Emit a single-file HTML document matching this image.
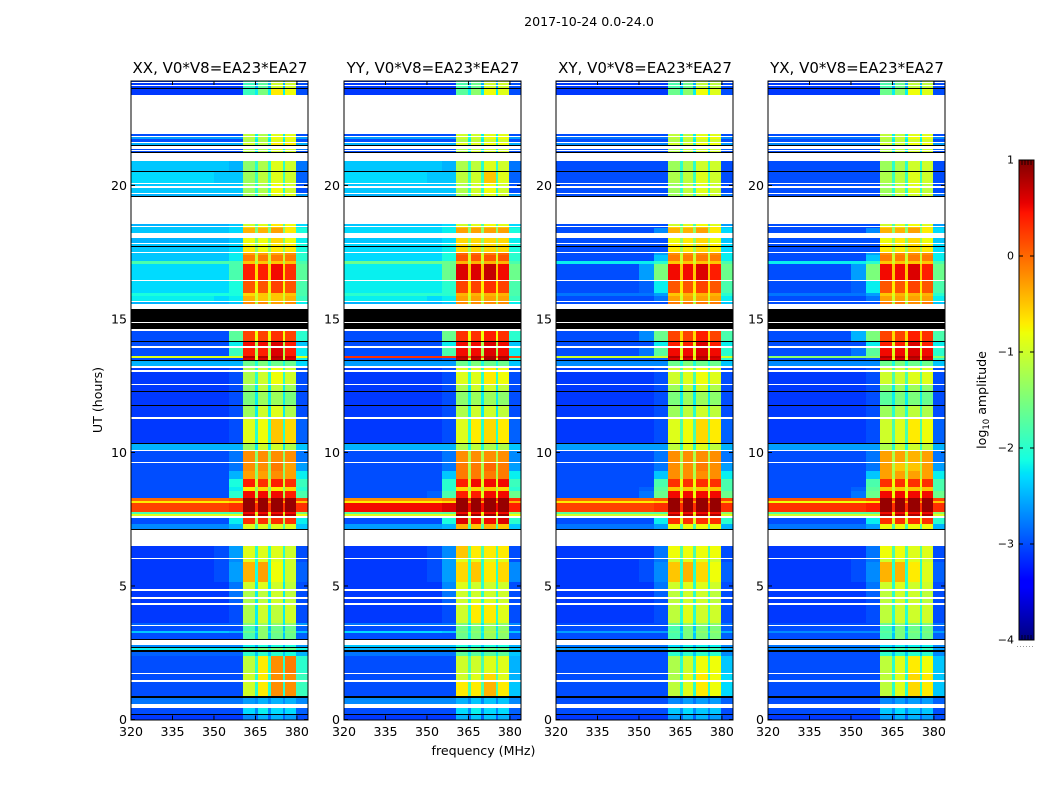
<!DOCTYPE html>
<html lang="en">
<head>
<meta charset="utf-8">
<title>2017-10-24 0.0-24.0</title>
<style>
html,body{margin:0;padding:0;background:#fff;}
svg{display:block;font-family:"DejaVu Sans","Liberation Sans",sans-serif;fill:#000;}
</style>
</head>
<body>
<svg id="chart" xmlns="http://www.w3.org/2000/svg" width="1050" height="800" viewBox="0 0 1050 800"></svg>
<script>
// Row start times in UT hours, with a kind for each: d = data, w = flagged blank, k = black line
const rowStartsUT = [0,0.17,0.21,0.43,0.58,0.81,0.88,1.42,1.48,1.70,1.74,2.38,2.53,2.60,2.68,2.72,2.80,2.96,3.00,3.25,3.32,3.50,3.55,3.60,3.63,4.30,4.36,4.51,4.57,4.82,4.87,5.15,5.90,6.00,6.04,6.50,7.10,7.15,7.32,7.55,7.62,7.70,7.76,8.11,8.20,8.30,8.55,8.70,9.00,9.30,9.62,9.66,10.07,10.11,10.30,10.36,11.25,11.31,11.74,11.78,12.27,12.31,12.53,12.57,13.03,13.07,13.17,13.22,13.43,13.47,13.55,13.62,13.93,13.97,14.12,14.16,14.53,14.63,14.83,14.87,15.32,15.36,15.39,15.56,15.65,15.68,15.86,15.97,16.43,16.47,17.05,17.16,17.40,17.47,17.51,17.69,17.73,17.82,17.86,18.03,18.20,18.39,18.44,18.48,18.55,19.55,19.62,19.68,19.73,19.92,19.96,20.06,20.10,20.50,20.55,20.90,21.22,21.25,21.30,21.33,21.38,21.46,21.50,21.59,21.64,21.72,21.82,21.85,21.93,23.39,23.61,23.65,23.74,23.77,23.84,23.87];
const rowKinds = ['d','k','d','w','d','k','d','w','d','w','d','d','k','d','k','d','w','k','d','d','d','w','d','w','d','w','d','w','d','w','d','d','d','w','d','w','k','d','d','w','d','d','d','d','d','d','d','d','d','d','w','d','w','d','k','d','w','d','k','d','k','d','w','d','w','d','w','d','k','d','d','d','w','d','k','d','w','k','w','k','w','k','w','d','w','d','d','d','w','d','d','d','d','w','d','k','d','w','d','w','d','d','w','d','w','k','d','w','d','w','d','w','d','k','d','w','k','d','w','d','w','k','d','w','d','d','w','d','w','d','k','d','w','d','w','d'];
const utEnd = 23.91;
// Frequency bin edges (MHz) and, for each bin, which value column of a data row it uses
const freqEdges = [320,350,355.5,360.4,365,365.8,369.4,370.5,374.8,375.7,379.8,384];
// Column meaning: 0 low, 1 mid, 2 shoulder, 3 A, 4 B, 5 C, 6 D, 7 gap, 8 tail
const freqColumns = [0,1,2,3,7,4,7,5,7,6,8];
// Amplitudes: log10 amplitude x 10, one line per data row
const xxCells = [
[-31,-31,-31,-27,-25,-25,-26,-29,-30],[-30,-30,-30,-23,-22,-23,-23,-27,-29],[-28,-28,-28,-26,-25,-25,-25,-27,-27],[-30,-30,-30,-10,-7,-2,-2,-20,-19],[-30,-30,-30,-10,-7,-2,-2,-20,-19],
[-30,-30,-30,-11,-7,-2,-1,-20,-20],[-29,-29,-29,-20,-20,-20,-21,-24,-25],[-22,-22,-22,-16,-15,-15,-16,-20,-21],[-27,-27,-27,-22,-21,-21,-21,-25,-26],[-30,-30,-30,-18,-14,-16,-16,-24,-29],
[-24,-24,-25,-16,-14,-15,-15,-22,-24],[-30,-30,-30,-18,-14,-16,-16,-24,-29],[-29,-29,-29,-15,-13,-14,-14,-22,-26],[-31,-31,-30,-12,-10,-11,-10,-22,-30],[-31,-31,-29,-12,-11,-10,-11,-22,-30],
[-31,-31,-28,-12,-11,-10,-11,-22,-30],[-31,-31,-28,-10,-9,-10,-11,-22,-30],[-31,-30,-26,-4,-3,-8,-10,-21,-29],[-31,-30,-27,-9,-9,-9,-10,-21,-30],[-31,-30,-26,-9,-9,-9,-10,-20,-30],
[-27,-27,-25,-9,-9,-9,-9,-18,-24],[-30,-30,-22,3,3,3,3,-12,-22],[-9,-9,-9,8,8,8,8,-6,-8],[-18,-18,-18,5,5,5,5,-10,-15],[2,2,3,9,9,9,9,3,3],
[-7,-7,-6,9,9,9,9,-3,-5],[0,0,1,9,9,9,9,2,2],[-30,-30,-20,5,5,5,4,-12,-18],[-30,-30,-22,-7,-6,-7,-6,-14,-20],[-30,-30,-21,4,3,4,3,-10,-19],
[-30,-30,-25,-3,-3,-2,-3,-14,-22],[-30,-30,-28,-2,-2,-1,-3,-14,-26],[-30,-30,-28,-2,-2,-2,-2,-14,-28],[-25,-25,-25,-13,-10,-10,-12,-22,-24],[-31,-31,-30,-9,-8,-5,-6,-20,-29],
[-31,-31,-30,-13,-10,-9,-12,-22,-30],[-31,-31,-30,-15,-13,-13,-15,-22,-30],[-31,-31,-30,-14,-11,-11,-13,-22,-30],[-31,-31,-30,-12,-10,-8,-10,-20,-30],[-31,-31,-30,-12,-10,-8,-10,-20,-30],
[-25,-25,-25,-16,-15,-16,-16,-21,-23],[-30,-30,-30,6,6,7,6,-10,-22],[-9,-9,-9,8,8,8,7,-9,-9],[-30,-30,-19,4,4,6,4,-12,-22],[-30,-30,-22,5,5,6,4,-12,-24],
[-30,-30,-17,2,2,3,2,-8,-20],[-25,-25,-24,-2,-2,-3,-2,-12,-22],[-22,-23,-22,-4,-5,-5,-4,-10,-19],[-21,-21,-21,-6,-5,-5,-5,-10,-18],[-23,-23,-21,1,1,2,1,-8,-18],
[-23,-23,-18,4,4,5,3,-6,-17],[-18,-18,-18,-5,-5,-5,-5,-12,-18],[-24,-24,-22,-1,-1,-1,-1,-10,-20],[-24,-24,-22,-3,-3,-3,-2,-12,-20],[-24,-24,-23,-7,-8,-7,-7,-14,-21],
[-24,-24,-23,-8,-8,-7,-7,-14,-21],[-25,-25,-24,-8,-8,-6,-8,-15,-22],[-24,-24,-23,-4,-4,-3,-7,-15,-21],[-24,-24,-23,-6,-6,-5,-7,-15,-22],[-25,-25,-24,-10,-9,-7,-8,-18,-23],
[-25,-25,-25,-13,-12,-9,-9,-20,-26],[-24,-24,-24,-13,-12,-8,-10,-20,-30],[-24,-24,-24,-13,-12,-8,-10,-20,-30],[-23,-24,-24,-13,-11,-9,-10,-19,-29],[-24,-24,-25,-14,-12,-9,-10,-20,-28],
[-30,-30,-30,-12,-12,-10,-10,-22,-30],[-30,-30,-30,-12,-12,-9,-10,-22,-28],[-25,-25,-25,-10,-11,-7,-7,-20,-25],[-30,-30,-30,-12,-12,-9,-9,-22,-30],[-26,-26,-26,-11,-11,-8,-8,-21,-26],
[-30,-30,-30,-11,-12,-9,-9,-22,-30],[-31,-31,-31,-19,-15,-7,-8,-22,-30],[-31,-31,-31,-19,-17,-10,-10,-25,-30],[-31,-31,-31,-19,-17,-10,-10,-25,-30],[-31,-31,-31,-19,-17,-10,-10,-25,-30]
];
const yyCells = [
[-31,-31,-31,-25,-24,-24,-25,-29,-30],[-30,-30,-30,-23,-22,-23,-23,-27,-29],[-27,-27,-27,-25,-24,-24,-24,-27,-27],[-30,-30,-30,-7,-7,-4,-7,-18,-24],[-30,-30,-30,-10,-9,-6,-9,-18,-25],
[-30,-30,-30,-10,-10,-9,-9,-18,-25],[-28,-28,-28,-17,-17,-17,-17,-22,-24],[-25,-25,-25,-16,-16,-16,-16,-20,-24],[-24,-24,-24,-21,-21,-21,-21,-24,-25],[-30,-30,-30,-16,-15,-13,-14,-22,-29],
[-23,-23,-24,-15,-14,-12,-13,-21,-24],[-30,-30,-30,-16,-15,-13,-14,-22,-29],[-28,-28,-28,-15,-14,-13,-14,-22,-27],[-31,-31,-30,-10,-7,-7,-9,-20,-30],[-31,-31,-29,-10,-9,-9,-10,-20,-30],
[-31,-31,-28,-10,-10,-10,-10,-20,-30],[-31,-31,-27,-9,-10,-10,-10,-20,-30],[-31,-30,-26,-6,-5,-7,-6,-20,-27],[-31,-30,-26,-9,-9,-9,-9,-20,-30],[-31,-30,-27,-5,-7,-7,-7,-18,-30],
[-26,-26,-25,-4,-5,-4,-5,-18,-24],[-30,-30,-21,6,5,5,6,-12,-20],[-9,-9,-9,9,9,9,9,-6,-8],[-17,-17,-17,5,5,5,5,-9,-14],[5,5,6,9,9,9,9,5,4],
[-7,-7,-6,9,9,9,9,-3,-4],[-2,-2,-1,9,9,9,9,3,3],[-30,-29,-18,4,4,5,5,-9,-16],[-30,-30,-20,-6,-6,-5,-6,-12,-20],[-30,-30,-20,4,5,5,5,-9,-19],
[-30,-30,-24,-1,-1,-1,-1,-12,-22],[-30,-30,-28,-1,-1,0,-1,-12,-26],[-30,-30,-28,-2,-2,-2,-2,-12,-27],[-25,-25,-25,-12,-11,-12,-12,-21,-24],[-31,-31,-30,-9,-7,-6,-7,-20,-29],
[-31,-31,-30,-12,-10,-10,-11,-22,-30],[-31,-31,-30,-14,-13,-13,-14,-22,-30],[-31,-31,-30,-12,-10,-10,-11,-22,-30],[-31,-31,-30,-9,-9,-7,-8,-20,-30],[-31,-31,-30,-9,-9,-7,-8,-20,-30],
[-26,-26,-26,-16,-15,-16,-16,-21,-24],[-30,-30,-29,7,7,8,7,-10,-20],[3,3,3,8,8,8,8,1,2],[-30,-30,-18,5,5,6,5,-12,-22],[-30,-30,-22,5,5,6,5,-12,-24],
[-30,-30,-16,3,3,4,3,-8,-20],[-25,-25,-24,-2,-2,-2,-2,-12,-22],[-22,-23,-22,-3,-3,-3,-3,-10,-19],[-20,-20,-20,-4,-4,-4,-4,-9,-18],[-22,-22,-20,2,2,3,2,-7,-18],
[-22,-22,-16,6,6,7,5,-5,-16],[-16,-16,-16,-4,-4,-4,-4,-11,-18],[-23,-23,-21,1,1,1,1,-9,-20],[-23,-23,-21,0,0,-1,0,-11,-20],[-23,-23,-22,-6,-6,-6,-6,-13,-21],
[-23,-23,-22,-6,-6,-6,-6,-13,-21],[-24,-24,-23,-6,-6,-6,-6,-14,-22],[-23,-23,-22,-3,-3,-3,-3,-14,-21],[-23,-23,-22,-5,-5,-5,-5,-14,-22],[-24,-24,-23,-10,-9,-8,-9,-18,-23],
[-25,-25,-25,-13,-10,-9,-10,-20,-26],[-24,-24,-24,-12,-10,-8,-10,-20,-30],[-24,-24,-24,-12,-10,-8,-10,-20,-30],[-23,-24,-24,-11,-10,-5,-9,-19,-29],[-24,-24,-25,-12,-11,-9,-10,-20,-28],
[-30,-30,-30,-12,-10,-10,-10,-22,-30],[-30,-30,-30,-12,-11,-10,-10,-22,-28],[-25,-25,-25,-9,-9,-8,-8,-20,-25],[-30,-30,-30,-12,-11,-10,-10,-22,-30],[-26,-26,-26,-10,-10,-8,-8,-21,-26],
[-30,-30,-30,-10,-10,-9,-9,-22,-30],[-31,-31,-31,-17,-14,-8,-9,-22,-30],[-31,-31,-31,-18,-16,-10,-10,-25,-30],[-31,-31,-31,-18,-16,-10,-10,-25,-30],[-31,-31,-31,-18,-16,-10,-10,-25,-30]
];
const xyCells = [
[-31,-31,-31,-26,-25,-25,-26,-29,-30],[-30,-30,-30,-24,-23,-24,-24,-27,-30],[-30,-30,-30,-27,-26,-26,-26,-28,-29],[-30,-30,-30,-11,-9,-7,-8,-20,-23],[-30,-30,-30,-12,-9,-7,-8,-20,-23],
[-30,-30,-30,-12,-10,-8,-8,-20,-24],[-30,-30,-30,-20,-20,-20,-20,-24,-27],[-26,-26,-26,-19,-18,-18,-19,-22,-25],[-28,-28,-28,-23,-22,-22,-22,-25,-27],[-30,-30,-30,-18,-15,-15,-15,-24,-29],
[-26,-26,-26,-17,-15,-14,-14,-22,-25],[-30,-30,-30,-18,-15,-15,-15,-24,-29],[-30,-30,-30,-16,-14,-14,-14,-22,-28],[-31,-31,-30,-11,-9,-10,-10,-20,-30],[-31,-31,-30,-11,-10,-10,-11,-20,-30],
[-31,-31,-29,-11,-10,-10,-11,-20,-30],[-31,-31,-28,-10,-9,-9,-10,-20,-30],[-31,-30,-27,-5,-4,-6,-8,-20,-29],[-31,-30,-28,-10,-9,-9,-10,-20,-30],[-31,-31,-28,-8,-8,-8,-8,-18,-30],
[-28,-28,-26,-8,-8,-8,-8,-18,-25],[-30,-30,-22,3,3,3,3,-9,-20],[-10,-10,-10,8,8,8,8,-6,-9],[-17,-17,-17,5,5,5,5,-9,-14],[2,2,3,9,9,9,9,3,3],
[-7,-7,-6,9,9,9,9,-3,-5],[0,0,1,9,9,9,9,2,2],[-30,-28,-16,5,5,5,5,-8,-16],[-30,-29,-17,-5,-5,-5,-5,-10,-18],[-30,-30,-18,3,3,3,3,-8,-18],
[-30,-30,-24,-2,-2,-2,-2,-12,-22],[-30,-30,-28,-2,-2,-1,-2,-12,-26],[-30,-30,-28,-2,-2,-2,-2,-12,-28],[-26,-26,-26,-11,-9,-9,-11,-20,-25],[-31,-31,-30,-9,-8,-6,-7,-18,-29],
[-31,-31,-30,-13,-11,-10,-11,-20,-30],[-31,-31,-30,-15,-13,-13,-14,-22,-30],[-31,-31,-30,-13,-11,-10,-12,-22,-30],[-31,-31,-30,-10,-9,-8,-9,-18,-30],[-31,-31,-30,-10,-9,-8,-9,-18,-30],
[-27,-27,-27,-16,-15,-16,-16,-21,-24],[-30,-30,-29,6,6,7,6,-9,-20],[-10,-10,-10,8,8,8,7,-6,-10],[-30,-28,-17,5,5,6,5,-9,-20],[-30,-30,-22,4,4,6,4,-9,-22],
[-30,-27,-16,2,2,4,2,-6,-18],[-30,-30,-30,-1,-1,-1,-1,-12,-24],[-30,-30,-28,-3,-3,-3,-3,-10,-22],[-28,-28,-26,-5,-4,-4,-4,-9,-20],[-30,-29,-22,1,1,2,1,-7,-18],
[-30,-26,-15,5,5,6,4,-5,-16],[-22,-22,-20,-5,-5,-5,-5,-10,-18],[-30,-30,-24,-1,-1,-1,-1,-10,-22],[-30,-30,-26,-2,-2,-2,-2,-11,-22],[-30,-30,-30,-7,-7,-6,-7,-13,-23],
[-30,-30,-30,-7,-7,-6,-7,-13,-23],[-30,-30,-30,-8,-7,-6,-8,-14,-24],[-30,-30,-27,-4,-4,-3,-7,-14,-23],[-30,-30,-30,-6,-6,-5,-7,-14,-24],[-30,-30,-30,-10,-9,-8,-9,-18,-26],
[-30,-30,-30,-13,-11,-10,-10,-20,-28],[-30,-30,-30,-13,-11,-9,-10,-20,-30],[-30,-30,-30,-13,-11,-9,-10,-20,-30],[-30,-30,-30,-12,-11,-9,-10,-19,-30],[-30,-30,-30,-13,-12,-10,-10,-20,-30],
[-30,-30,-30,-12,-11,-10,-10,-22,-30],[-30,-30,-30,-12,-11,-10,-10,-22,-29],[-27,-27,-27,-10,-10,-8,-8,-20,-26],[-30,-30,-30,-12,-11,-10,-10,-22,-30],[-28,-28,-28,-11,-10,-8,-8,-21,-27],
[-30,-30,-30,-11,-11,-9,-9,-22,-30],[-31,-31,-31,-16,-14,-8,-9,-22,-30],[-31,-31,-31,-18,-16,-11,-11,-25,-30],[-31,-31,-31,-18,-16,-11,-11,-25,-30],[-31,-31,-31,-18,-16,-11,-11,-25,-30]
];
const yxCells = [
[-31,-31,-31,-26,-25,-25,-26,-29,-30],[-30,-30,-30,-24,-23,-24,-24,-27,-30],[-30,-30,-30,-27,-26,-26,-26,-28,-29],[-30,-30,-30,-11,-9,-6,-7,-20,-24],[-30,-30,-30,-11,-9,-6,-7,-20,-24],
[-30,-30,-30,-11,-9,-7,-8,-20,-24],[-30,-30,-30,-20,-20,-20,-20,-24,-27],[-27,-27,-27,-19,-18,-18,-19,-22,-26],[-28,-28,-28,-23,-22,-22,-22,-25,-27],[-30,-30,-30,-18,-15,-16,-16,-24,-29],
[-27,-27,-27,-17,-15,-15,-15,-22,-26],[-30,-30,-30,-18,-15,-16,-16,-24,-29],[-30,-30,-30,-16,-14,-15,-15,-22,-28],[-31,-31,-30,-11,-10,-10,-10,-20,-30],[-31,-31,-30,-11,-10,-10,-11,-20,-30],
[-31,-31,-29,-11,-10,-10,-11,-20,-30],[-31,-31,-28,-10,-9,-10,-10,-20,-30],[-31,-30,-27,-4,-4,-7,-9,-20,-29],[-31,-30,-28,-10,-9,-9,-10,-20,-30],[-31,-31,-28,-8,-8,-9,-9,-18,-30],
[-28,-28,-26,-8,-8,-8,-8,-18,-25],[-30,-30,-22,3,3,3,3,-9,-20],[-10,-10,-10,8,8,8,8,-6,-9],[-17,-17,-17,5,5,5,5,-9,-14],[3,3,4,9,9,9,9,3,3],
[-8,-8,-7,9,9,9,9,-3,-5],[1,1,2,9,9,9,9,2,2],[-30,-28,-16,5,5,5,5,-8,-16],[-30,-29,-17,-5,-5,-5,-5,-10,-18],[-30,-30,-18,3,3,3,3,-8,-18],
[-30,-30,-24,-3,-3,-3,-3,-12,-22],[-30,-30,-28,-3,-5,-5,-3,-12,-26],[-30,-30,-28,-3,-3,-4,-3,-12,-28],[-26,-26,-26,-12,-10,-10,-11,-20,-25],[-31,-31,-30,-10,-9,-7,-8,-18,-29],
[-31,-31,-30,-13,-12,-11,-12,-20,-30],[-31,-31,-30,-17,-15,-15,-16,-22,-30],[-31,-31,-30,-14,-13,-13,-14,-22,-30],[-31,-31,-30,-10,-10,-9,-9,-18,-30],[-31,-31,-30,-10,-10,-9,-9,-18,-30],
[-27,-27,-27,-16,-15,-16,-16,-21,-24],[-30,-30,-29,6,6,7,6,-9,-20],[-14,-14,-14,8,8,8,7,-6,-14],[-30,-28,-17,5,5,6,5,-9,-20],[-30,-30,-22,4,4,6,4,-9,-22],
[-30,-25,-15,2,2,4,3,-6,-18],[-30,-30,-30,-1,-1,-2,-1,-12,-24],[-30,-30,-28,-3,-3,-3,-3,-10,-22],[-28,-28,-26,-5,-4,-4,-4,-9,-20],[-30,-29,-22,1,1,2,1,-7,-18],
[-30,-26,-15,5,5,6,4,-5,-16],[-22,-22,-20,-5,-5,-5,-5,-10,-18],[-30,-30,-24,-1,-1,-1,-1,-10,-22],[-30,-30,-26,-2,-2,-2,-2,-11,-22],[-30,-30,-30,-7,-7,-6,-7,-13,-23],
[-30,-30,-30,-7,-7,-6,-7,-13,-23],[-30,-30,-30,-8,-7,-6,-8,-14,-24],[-30,-30,-27,-4,-4,-3,-7,-14,-23],[-30,-30,-30,-6,-6,-5,-7,-14,-24],[-30,-30,-30,-10,-9,-8,-9,-18,-26],
[-30,-30,-30,-13,-11,-10,-10,-20,-28],[-30,-30,-30,-13,-11,-9,-11,-20,-30],[-30,-30,-30,-13,-11,-9,-11,-20,-30],[-30,-30,-30,-12,-11,-9,-10,-19,-30],[-30,-30,-30,-13,-12,-10,-10,-20,-30],
[-30,-30,-30,-12,-11,-10,-10,-22,-30],[-30,-30,-30,-12,-11,-10,-10,-22,-29],[-27,-27,-27,-10,-10,-8,-8,-20,-26],[-30,-30,-30,-12,-11,-10,-10,-22,-30],[-28,-28,-28,-11,-10,-8,-8,-21,-27],
[-30,-30,-30,-11,-11,-9,-9,-22,-30],[-31,-31,-31,-16,-14,-8,-9,-22,-30],[-31,-31,-31,-18,-16,-11,-11,-25,-30],[-31,-31,-31,-18,-16,-11,-11,-25,-30],[-31,-31,-31,-18,-16,-11,-11,-25,-30]
];
const panelTitles = ['XX, V0*V8=EA23*EA27','YY, V0*V8=EA23*EA27','XY, V0*V8=EA23*EA27','YX, V0*V8=EA23*EA27'];
const panelCells = [xxCells, yyCells, xyCells, yxCells];
const xTickValues = [320,335,350,365,380];
const yTickValues = [0,5,10,15,20];
const colorTickValues = [1,0,-1,-2,-3,-4];
const colorTickLabels = ['1','0','\u22121','\u22122','\u22123','\u22124'];

const NS = 'http://www.w3.org/2000/svg';
const root = document.getElementById('chart');
const panelLefts = [131, 344, 556, 768];
const panelWidth = 177;
const plotTop = 81;
const plotBottom = 719.5;
const xOf = (left, mhz) => left + (mhz - freqEdges[0]) / (freqEdges[freqEdges.length - 1] - freqEdges[0]) * panelWidth;
const yOf = (ut) => plotBottom - ut / utEnd * (plotBottom - plotTop);
const colorTop = 160;
const colorBottom = 640;
const colorLeft = 1019;
const colorRight = 1034;
const yOfLevel = (v) => colorBottom - (v + 4) / 5 * (colorBottom - colorTop);

function piece(v, pts) {
  for (let i = 0; i < pts.length - 1; i++) {
    if (v <= pts[i + 1][0]) {
      const a = pts[i], b = pts[i + 1];
      return a[1] + (b[1] - a[1]) * (v - a[0]) / (b[0] - a[0]);
    }
  }
  return pts[pts.length - 1][1];
}
function jet(level) {
  const t = Math.max(0, Math.min(1, (level + 4) / 5));
  const r = piece(t, [[0, 0], [0.35, 0], [0.66, 1], [0.89, 1], [1, 0.5]]);
  const g = piece(t, [[0, 0], [0.125, 0], [0.375, 1], [0.64, 1], [0.91, 0], [1, 0]]);
  const b = piece(t, [[0, 0.5], [0.11, 1], [0.34, 1], [0.65, 0], [1, 0]]);
  return 'rgb(' + Math.round(r * 255) + ',' + Math.round(g * 255) + ',' + Math.round(b * 255) + ')';
}
function make(tag, attrs, parent) {
  const el = document.createElementNS(NS, tag);
  for (const k in attrs) el.setAttribute(k, attrs[k]);
  (parent || root).appendChild(el);
  return el;
}
function label(content, attrs, parent) {
  const el = make('text', attrs, parent);
  el.textContent = content;
  return el;
}

panelCells.forEach((cells, p) => {
  const left = panelLefts[p];
  const g = make('g', {});
  
  
  const heat = make('g', { 'shape-rendering': 'crispEdges' }, g);
  
  
  let dataRow = 0;
  rowStartsUT.forEach((start, r) => {
    const end = r + 1 < rowStartsUT.length ? rowStartsUT[r + 1] : utEnd;
    const yTop = Math.round(yOf(end));
    const yBot = Math.round(yOf(start));
    const h = Math.max(1, yBot - yTop);
    const kind = rowKinds[r];
    if (kind === 'w') return;
    if (kind === 'k') {
      const line = make('rect', { x: left, y: yTop, width: panelWidth, height: h, fill: '#000' }, heat);
      
      
      return;
    }
    const values = cells[dataRow++];
    freqColumns.forEach((col, c) => {
      const x0 = Math.round(xOf(left, freqEdges[c]));
      const x1 = Math.round(xOf(left, freqEdges[c + 1]));
      const cell = make('rect', { x: x0, y: yTop, width: x1 - x0, height: h, fill: jet(values[col] / 10) }, heat);
      
      
    });
  });
  const frame = make('rect', { x: left, y: plotTop, width: panelWidth, height: plotBottom - plotTop + 0.5, fill: 'none', stroke: '#000', 'stroke-width': 1 }, g);
  
  
  xTickValues.forEach((v) => {
    const x = xOf(left, v);
    const tb = make('line', { x1: x, x2: x, y1: plotBottom, y2: plotBottom - 4, stroke: '#000', 'stroke-width': 1 }, g);
    
    
    const tt = make('line', { x1: x, x2: x, y1: plotTop, y2: plotTop + 4, stroke: '#000', 'stroke-width': 1 }, g);
    
    
    const t = label(String(v), { x: x, y: 736, 'text-anchor': 'middle', 'font-size': 12.6 }, g);
    
    
  });
  yTickValues.forEach((v) => {
    const y = yOf(v);
    const tl = make('line', { x1: left, x2: left + 4, y1: y, y2: y, stroke: '#000', 'stroke-width': 1 }, g);
    
    
    const tr = make('line', { x1: left + panelWidth, x2: left + panelWidth - 4, y1: y, y2: y, stroke: '#000', 'stroke-width': 1 }, g);
    
    
    const t = label(String(v), { x: left - 4, y: y + 4.5, 'text-anchor': 'end', 'font-size': 12.6 }, g);
    
    
  });
  const title = label(panelTitles[p], { x: left + panelWidth / 2 + 0.5, y: 73, 'text-anchor': 'middle', 'font-size': 15 }, g);
  
  
});

const sup = label('2017-10-24 0.0-24.0', { x: 589, y: 26, 'text-anchor': 'middle', 'font-size': 12.6 });


const xTitle = label('frequency (MHz)', { x: 483.5, y: 755, 'text-anchor': 'middle', 'font-size': 12.6 });


const yTitle = label('UT (hours)', { x: 0, y: 0, 'text-anchor': 'middle', 'font-size': 12.6, transform: 'translate(102,400) rotate(-90)' });



const bar = make('g', {});


const barFill = make('g', { 'shape-rendering': 'crispEdges' }, bar);


for (let y = colorTop; y < colorBottom; y++) {
  const level = -4 + (colorBottom - y - 0.5) / (colorBottom - colorTop) * 5;
  const strip = make('rect', { x: colorLeft, y: y, width: colorRight - colorLeft, height: 1, fill: jet(level) }, barFill);
  
  
}
const barFrame = make('rect', { x: colorLeft, y: colorTop, width: colorRight - colorLeft, height: colorBottom - colorTop, fill: 'none', stroke: '#000', 'stroke-width': 1 }, bar);


colorTickValues.forEach((v, i) => {
  const y = yOfLevel(v);
  const a = make('line', { x1: colorLeft, x2: colorLeft + 4, y1: y, y2: y, stroke: '#000', 'stroke-width': 1 }, bar);
  
  
  const b = make('line', { x1: colorRight, x2: colorRight - 4, y1: y, y2: y, stroke: '#000', 'stroke-width': 1 }, bar);
  
  
  const t = label(colorTickLabels[i], { x: colorLeft - 5, y: y + 3.5, 'text-anchor': 'end', 'font-size': 11 }, bar);
  
  
});
[3, 6, 9, 12].forEach((dx) => {
  const up = make('line', { x1: colorLeft + dx, x2: colorLeft + dx, y1: colorTop, y2: colorTop + 5, stroke: '#000', 'stroke-width': 0.8 }, bar);
  
  
  const down = make('line', { x1: colorLeft + dx, x2: colorLeft + dx, y1: colorBottom, y2: colorBottom - 5, stroke: '#000', 'stroke-width': 0.8 }, bar);
  
  
});
[0, 3, 6, 9, 12, 15].forEach((dx) => {
  const dot = make('rect', { x: colorLeft - 2 + dx, y: 646, width: 1, height: 1, fill: '#999' }, bar);
  
  
});
const barTitle = make('text', { x: 0, y: 0, 'text-anchor': 'middle', 'font-size': 12.6, transform: 'translate(986,400) rotate(-90)' }, bar);


const s1 = make('tspan', {}, barTitle);
s1.textContent = 'log';
const s2 = make('tspan', { 'font-size': 8.5, dy: 3 }, barTitle);
s2.textContent = '10';
const s3 = make('tspan', { dy: -3 }, barTitle);
s3.textContent = ' amplitude';
</script>
</body>
</html>
